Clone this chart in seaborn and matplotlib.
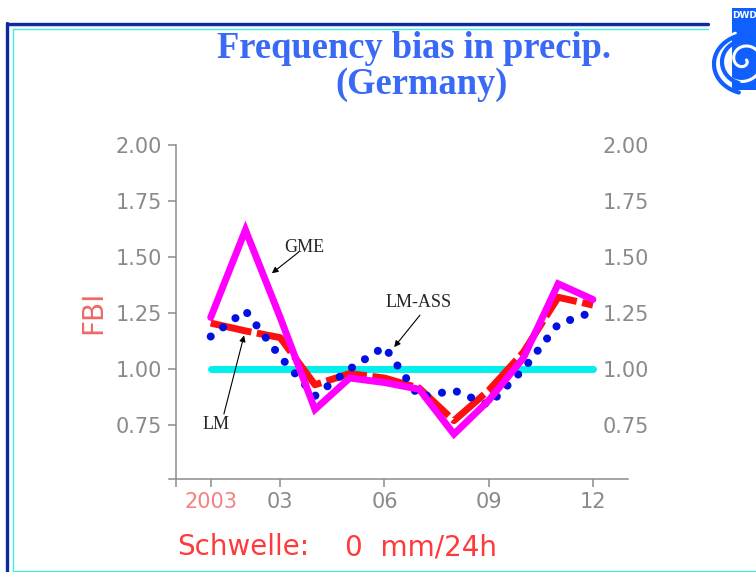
import numpy as np
import seaborn as sns
import matplotlib.pyplot as plt
from matplotlib.lines import Line2D
from matplotlib.patches import Rectangle

# Monate 2003 (1..12) und FBI-Werte
months = [1, 2, 3, 4, 5, 6, 7, 8, 9, 10, 11, 12]
gme = [1.23, 1.62, 1.23, 0.82, 0.96, 0.94, 0.91, 0.71, 0.86, 1.05, 1.38, 1.31]
lm = [1.205, 1.17, 1.14, 0.93, 0.98, 0.96, 0.915, 0.77, 0.905, 1.075, 1.32, 1.285]
lm_ass = [1.145, 1.26, 1.055, 0.88, 1.0, 1.10, 0.875, 0.905, 0.84, 1.0, 1.20, 1.255]
reference = [1.0] * 12

xtick_pos = [0, 1, 3, 6, 9, 12]
xtick_labels = ['', '2003', '03', '06', '09', '12']
ytick_pos = [0.75, 1.00, 1.25, 1.50, 1.75, 2.00]

sns.set_style('white')
plt.rcParams['font.family'] = ['DejaVu Sans']

W, H = 756, 572
fig = plt.figure(figsize=(W / 100, H / 100), dpi=100)

def fx(px):
    return px / W

def fy(py):
    return 1 - py / H

# Achsen: x=0 liegt bei Pixel 176, 34.8 px pro Monat
ax = fig.add_axes([fx(169), fy(479), fx(627.7 - 169), (479 - 144.7) / H])
ax.set_xlim(-0.2, 13)
ax.set_ylim(0.51, 2.0)

sns.lineplot(x=months, y=reference, ax=ax, color='#00f0f0', lw=5.0,
             solid_capstyle='round', zorder=2)
sns.lineplot(x=months, y=lm, ax=ax, color='#ff1010', lw=5.0,
             linestyle=(0, (6, 0.8)), zorder=3)
sns.lineplot(x=months, y=lm_ass, ax=ax, color='#0010e0', lw=5.8,
             linestyle=(0, (0.01, 1.9)), dash_capstyle='round', zorder=4)
sns.lineplot(x=months, y=gme, ax=ax, color='#ff00ff', lw=5.0,
             solid_joinstyle='miter', zorder=5)

# Achsenlinien
for s in ['top', 'right']:
    ax.spines[s].set_visible(False)
ax.spines['left'].set_position(('data', 0))
ax.spines['left'].set_bounds(0.51, 2.0)
for s in ['left', 'bottom']:
    ax.spines[s].set_color('#8c8c8c')
    ax.spines[s].set_linewidth(1.1)

ax.set_xticks(xtick_pos)
ax.set_xticklabels(xtick_labels)
ax.set_yticks(ytick_pos)
ax.set_yticklabels([f'{v:.2f}' for v in ytick_pos])
ax.tick_params(axis='both', direction='out', length=6, width=1.1,
               color='#8c8c8c', labelcolor='#8a8a8a', labelsize=15,
               left=True, bottom=True)
ax.tick_params(axis='y', pad=4)
ax.tick_params(axis='x', pad=3)
ax.get_xticklabels()[1].set_color('#f58080')
ax.xaxis.get_major_ticks()[1].tick1line.set_color('#f58080')

# rechte Beschriftung
ax2 = ax.twinx()
ax2.set_ylim(ax.get_ylim())
ax2.set_yticks(ytick_pos)
ax2.set_yticklabels([f'{v:.2f}' for v in ytick_pos])
for s in ax2.spines.values():
    s.set_visible(False)
ax2.tick_params(axis='y', length=0, pad=-17.8, labelsize=15, labelcolor='#8a8a8a')

ax.set_ylabel('')
fig.text(fx(93), fy(312), 'FBI', rotation=90, color='#f06868', fontsize=20,
         ha='center', va='center')

# Beschriftungen mit Pfeilen
serif = 'Liberation Serif'
arrow = dict(arrowstyle='-|>', color='black', lw=0.8, mutation_scale=9,
             shrinkA=0, shrinkB=0)
ax.annotate('', xy=(2.76, 1.427), xytext=(3.53, 1.521), arrowprops=arrow)
ax.text(3.68, 1.543, 'GME', family=serif, fontsize=13, ha='center', va='center')
ax.annotate('', xy=(6.28, 1.098), xytext=(7.02, 1.24), arrowprops=arrow)
ax.text(6.97, 1.295, 'LM-ASS', family=serif, fontsize=13, ha='center', va='center')
ax.annotate('', xy=(1.96, 1.15), xytext=(1.38, 0.80), arrowprops=arrow)
ax.text(1.14, 0.753, 'LM', family=serif, fontsize=13, ha='center', va='center')

# Titel
fig.text(fx(414), fy(48), 'Frequency bias in precip.', family=serif,
         weight='bold', color='#3a6af5', fontsize=26.3, ha='center', va='center')
fig.text(fx(422), fy(85), '(Germany)', family=serif,
         weight='bold', color='#3a6af5', fontsize=26.3, ha='center', va='center')

# Schwelle
fig.text(fx(177), fy(547), 'Schwelle:', color='#ff3a3a', fontsize=20,
         ha='left', va='center')
fig.text(fx(345), fy(547), '0  mm/24h', color='#ff3a3a', fontsize=20,
         ha='left', va='center')

# Rahmen der Folie
tf = fig.transFigure
fig.add_artist(Line2D([fx(7), fx(708)], [fy(23.5), fy(23.5)], transform=tf,
                      color='#0a2a9e', lw=2.4))
fig.add_artist(Line2D([fx(7), fx(708)], [fy(26), fy(26)], transform=tf,
                      color='#c8c8e0', lw=0.8))
fig.add_artist(Line2D([fx(7), fx(7)], [fy(23), fy(572)], transform=tf,
                      color='#0a2a9e', lw=2.4))
fig.add_artist(Line2D([fx(12.7), fx(708)], [fy(29.3), fy(29.3)], transform=tf,
                      color='#40f0d8', lw=1.0))
fig.add_artist(Line2D([fx(12.7), fx(12.7)], [fy(29.3), fy(571)], transform=tf,
                      color='#40f0d8', lw=1.0))
fig.add_artist(Line2D([fx(12.7), fx(756)], [fy(571), fy(571)], transform=tf,
                      color='#40f0d8', lw=1.0))

# DWD-Logo (vereinfacht)
logo_blue = '#1060ff'
fig.add_artist(Rectangle((fx(731.5), fy(90)), fx(756 - 731.5), (90 - 8) / H,
                         transform=tf, color=logo_blue, lw=0))
fig.text(fx(732.5), fy(15), 'DWD', color='white', fontsize=6.5, weight='bold',
         ha='left', va='center')
t = np.linspace(0, 3.4 * np.pi, 200)
r = 2.5 + 2.4 * t
cx, cy = 744, 60
fig.add_artist(Line2D(fx(cx + r * np.cos(t)), fy(cy + r * np.sin(t)),
                      transform=tf, color='white', lw=2.2))
ta = np.linspace(0.6 * np.pi, 1.4 * np.pi, 60)
fig.add_artist(Line2D(fx(cx + 6 + 36 * np.cos(ta)), fy(cy + 4 + 30 * np.sin(ta)),
                      transform=tf, color=logo_blue, lw=3.0))
fig.add_artist(Line2D(fx(cx + 2 + 24 * np.cos(ta)), fy(cy + 2 + 22 * np.sin(ta)),
                      transform=tf, color=logo_blue, lw=3.0))

fig.savefig('out.png', dpi=100)
plt.close(fig)
